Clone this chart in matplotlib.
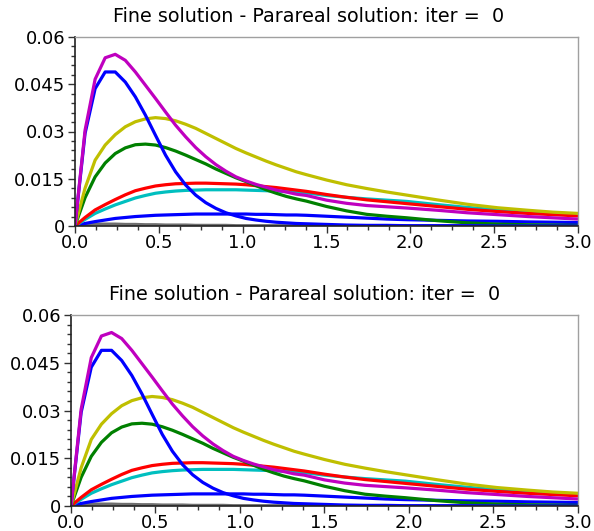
import matplotlib
matplotlib.use('Agg')
import matplotlib.pyplot as plt
from matplotlib.ticker import MultipleLocator, FixedLocator, FixedFormatter

plt.rcParams['font.family'] = ['DejaVu Sans']

# time samples (s)
t = [0.00, 0.06, 0.12, 0.18, 0.24, 0.30, 0.36, 0.42, 0.48, 0.54, 0.60, 0.66,
     0.72, 0.78, 0.84, 0.90, 0.96, 1.02, 1.08, 1.14, 1.20, 1.26, 1.32, 1.38,
     1.50, 1.62, 1.74, 1.86, 1.98, 2.16, 2.34, 2.52, 2.70, 2.85, 3.00]

# solution components
u_magenta = [0.0, .0304, .0466, .0534, .0545, .0526, .0489, .0447, .0405,
             .0362, .0320, .0283, .0249, .0220, .0195, .0174, .0156, .0143,
             .0132, .0123, .0114, .0108, .0101, .0097, .0082, .0072, .0065,
             .0061, .0057, .0050, .0042, .0036, .0030, .0026, .0022]
u_blue_fast = [0.0, .0294, .0436, .0489, .0489, .0457, .0410, .0352, .0288,
               .0225, .0172, .0130, .0098, .0074, .0056, .0042, .0032, .0024,
               .0019, .0015, .0012, .0010, .0008, .0007, .0005, .0003, .0002,
               .0002, .0001, .0001, .0001, 0.0, 0.0, 0.0, 0.0]
u_yellow = [0.0, .0120, .0209, .0257, .0290, .0315, .0331, .0340, .0344,
            .0341, .0334, .0323, .0310, .0294, .0278, .0262, .0246, .0232,
            .0219, .0206, .0194, .0183, .0172, .0163, .0146, .0131, .0119,
            .0108, .0098, .0083, .0069, .0058, .0050, .0044, .0040]
u_green = [0.0, .0090, .0156, .0200, .0230, .0248, .0258, .0260, .0257,
           .0249, .0238, .0225, .0211, .0197, .0181, .0167, .0153, .0141,
           .0128, .0115, .0104, .0094, .0086, .0079, .0062, .0048, .0037,
           .0031, .0026, .0017, .0010, .0006, .0004, .0003, .0002]
u_red = [0.0, .0027, .0051, .0068, .0084, .0099, .0112, .0120, .0127,
         .0131, .0134, .0135, .0136, .0136, .0135, .0134, .0133, .0131,
         .0128, .0125, .0122, .0118, .0114, .0110, .0100, .0091, .0083,
         .0077, .0071, .0062, .0053, .0046, .0040, .0036, .0032]
u_cyan = [0.0, .0021, .0040, .0054, .0067, .0078, .0089, .0097, .0104,
          .0108, .0111, .0113, .0114, .0115, .0115, .0115, .0115, .0114,
          .0113, .0112, .0111, .0109, .0107, .0105, .0097, .0091, .0086,
          .0082, .0078, .0068, .0059, .0051, .0045, .0041, .0038]
u_blue_slow = [0.0, .0008, .0014, .0019, .0024, .0027, .0030, .0032, .0034,
               .0035, .0036, .0037, .0038, .0038, .0038, .0038, .0038, .0038,
               .0037, .0037, .0036, .0035, .0035, .0034, .0031, .0028, .0025,
               .0022, .0020, .0018, .0016, .0015, .0013, .0012, .0011]
u_black = [0.0, .0004, .0006, .0006, .0006, .0005, .0005, .0004, .0004,
           .0003, .0003, .0003, .0002, .0002, .0002, .0002, .0001, .0001,
           .0001, .0001, .0001, .0001, .0001, .0001, 0.0, 0.0, 0.0,
           0.0, 0.0, 0.0, 0.0, 0.0, 0.0, 0.0, 0.0]

series = [
    (u_black, '#303030'),
    (u_blue_slow, '#0000ff'),
    (u_cyan, '#00bfbf'),
    (u_red, '#ff0000'),
    (u_green, '#008000'),
    (u_yellow, '#bfbf00'),
    (u_blue_fast, '#0000ff'),
    (u_magenta, '#bf00bf'),
]

yticks = [0, 0.015, 0.03, 0.045, 0.06]
ytick_labels = ['0', '0.015', '0.03', '0.045', '0.06']
xticks = [0.0, 0.5, 1.0, 1.5, 2.0, 2.5, 3.0]
xtick_labels = ['0.0', '0.5', '1.0', '1.5', '2.0', '2.5', '3.0']

title = 'Fine solution - Parareal solution: iter =  0'


def draw(ax, title_x):
    for u, col in series:
        alpha = 0.7 if col == '#303030' else 1.0
        ax.plot(t, u, color=col, lw=2.3, alpha=alpha)
    ax.set_xlim(0, 3)
    ax.set_ylim(0, 0.06)
    ax.yaxis.set_major_locator(FixedLocator(yticks))
    ax.yaxis.set_major_formatter(FixedFormatter(ytick_labels))
    ax.yaxis.set_minor_locator(MultipleLocator(0.003))
    ax.xaxis.set_major_locator(FixedLocator(xticks))
    ax.xaxis.set_major_formatter(FixedFormatter(xtick_labels))
    ax.xaxis.set_minor_locator(MultipleLocator(0.125))
    ax.tick_params(which='major', length=5, width=1, labelsize=13,
                   direction='out', color='#333333')
    ax.tick_params(which='minor', length=3, width=1, color='#333333')
    ax.tick_params(axis='x', pad=1)
    ax.tick_params(axis='y', pad=2)
    for side in ('top', 'right'):
        ax.spines[side].set_color('#a0a0a0')
        ax.spines[side].set_linewidth(1)
    for side in ('left', 'bottom'):
        ax.spines[side].set_color('#222222')
        ax.spines[side].set_linewidth(1.2)
    ax.set_title(title, fontsize=13.8, x=title_x, pad=11)


fig = plt.figure(figsize=(5.94, 5.31), dpi=100)
ax1 = fig.add_axes([75 / 594, 1 - 226 / 531, 503 / 594, 189 / 531])
ax2 = fig.add_axes([71 / 594, 1 - 506 / 531, 507 / 594, 191 / 531])
draw(ax1, 0.465)
draw(ax2, 0.46)

fig.savefig('out.png', dpi=100)
